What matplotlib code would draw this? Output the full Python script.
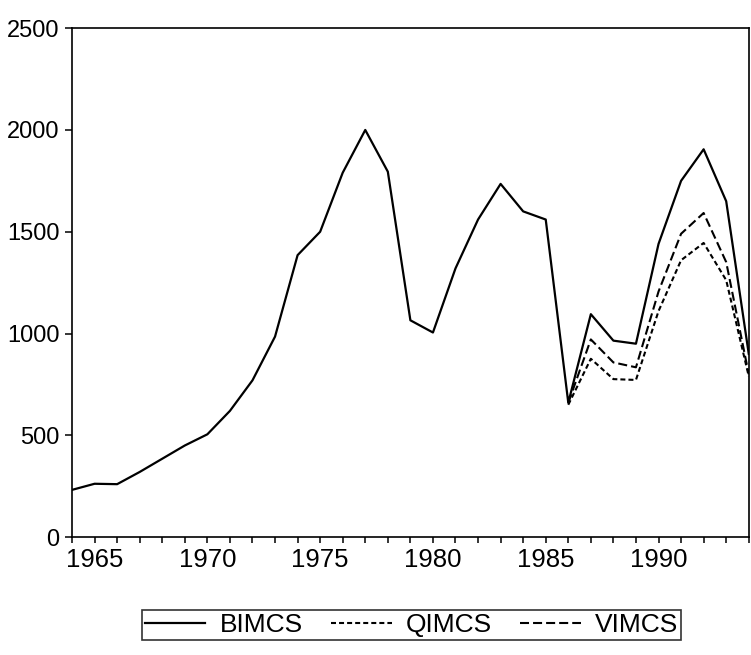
import matplotlib.pyplot as plt
import numpy as np

# annual series, 1964-1994
years = list(range(1964, 1995))
bimcs = [232, 262, 260, 320, 385, 450, 505, 620, 770, 985,
         1385, 1500, 1790, 2000, 1795, 1065, 1005, 1320, 1560, 1735,
         1600, 1560, 660, 1095, 965, 950, 1440, 1750, 1905, 1650,
         900]

# the two alternative estimates only differ from 1986 on
years_alt = list(range(1986, 1995))
qimcs = [650, 876, 776, 772, 1110, 1360, 1445, 1262, 790]
vimcs = [660, 971, 858, 834, 1206, 1490, 1592, 1351, 800]

major_years = [1965, 1970, 1975, 1980, 1985, 1990]
y_ticks = [0, 500, 1000, 1500, 2000, 2500]

plt.rcParams['font.family'] = ['Liberation Sans', 'DejaVu Sans']
plt.rcParams['lines.scale_dashes'] = False

fig = plt.figure(figsize=(7.51, 6.55), dpi=100)
ax = fig.add_axes([0.0959, 0.180, 0.9011, 0.777])

ax.plot(years, bimcs, color='black', lw=1.6, label='BIMCS')
ax.plot(years_alt, qimcs, color='black', lw=1.5, dashes=(3.6, 2.2), label='QIMCS')
ax.plot(years_alt, vimcs, color='black', lw=1.5, dashes=(6.5, 2.9), label='VIMCS')

ax.set_xlim(1964, 1994)
ax.set_ylim(0, 2500)

ax.set_xticks(major_years)
ax.set_xticks(years, minor=True)
ax.set_yticks(y_ticks)
ax.tick_params(axis='x', which='both', direction='out', length=4, width=1.1,
               labelsize=18.5, pad=4)
ax.tick_params(axis='y', direction='out', length=5, width=1.1,
               labelsize=17, pad=4)

for s in ax.spines.values():
    s.set_linewidth(1.2)

leg = fig.legend(loc='center', bbox_to_anchor=(0.548, 0.046), ncol=3,
                 fontsize=19, handlelength=2.3, handletextpad=0.55,
                 columnspacing=1.05, borderpad=0.1, frameon=True,
                 fancybox=False, shadow=False)
leg.get_frame().set_edgecolor('black')
leg.get_frame().set_linewidth(1.2)

fig.savefig('out.png', dpi=100)
